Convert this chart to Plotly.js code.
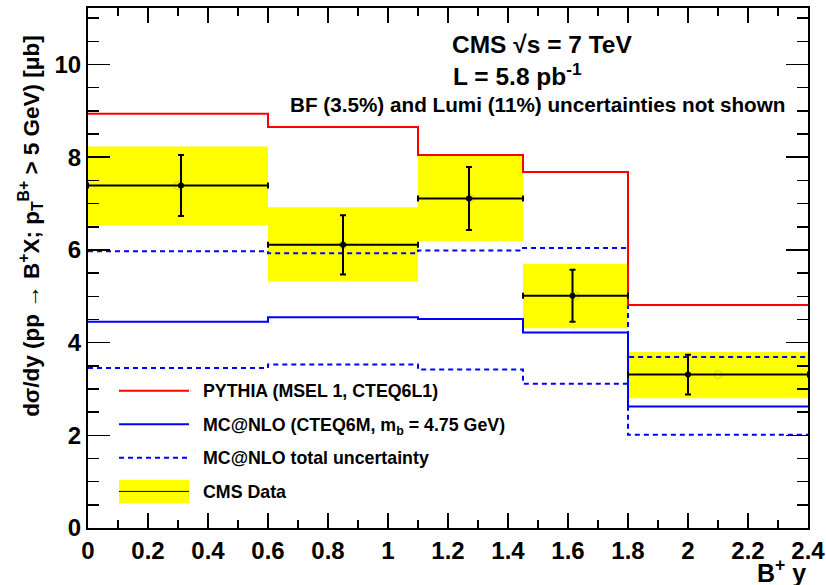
<!DOCTYPE html>
<html>
<head>
<meta charset="utf-8">
<script src="https://cdn.plot.ly/plotly-3.0.1.min.js"></script>
<style>html,body{margin:0;padding:0;background:#fff;}#plot{width:826px;height:585px;}</style>
</head>
<body>
<div id="plot"></div>
<script>
// ---- data ----
const binLow = [0, 0.6, 1.1, 1.45, 1.8];
const binHigh = [0.6, 1.1, 1.45, 1.8, 2.4];
const stepEdges = [0, 0.6, 1.1, 1.45, 1.8, 2.4];
const pythia = [8.94, 8.65, 8.05, 7.68, 4.81];
const mcnlo = [4.45, 4.55, 4.51, 4.22, 2.62];
const mcnloUp = [5.97, 5.93, 5.99, 6.04, 3.69];
const mcnloDown = [3.45, 3.53, 3.42, 3.11, 2.01];
const dataX = [0.31, 0.85, 1.27, 1.615, 2.0];
const dataY = [7.39, 6.11, 7.11, 5.01, 3.31];
const statErr = [0.66, 0.64, 0.68, 0.56, 0.43];
const totLow = [6.53, 5.32, 6.19, 4.31, 2.80];
const totHigh = [8.23, 6.92, 8.05, 5.70, 3.80];
const binCenter = [0.3, 0.85, 1.275, 1.625, 2.1];
const xTickVals = [0, 0.2, 0.4, 0.6, 0.8, 1, 1.2, 1.4, 1.6, 1.8, 2, 2.2, 2.4];
const xTickText = ["0", "0.2", "0.4", "0.6", "0.8", "1", "1.2", "1.4", "1.6", "1.8", "2", "2.2", "2.4"];
const yTickVals = [0, 2, 4, 6, 8, 10];
const yTickText = ["0", "2", "4", "6", "8", "10"];

const FONT = "Liberation Sans, Arial, Helvetica, sans-serif";

function stepY(v) { return v.concat([v[v.length - 1]]); }

const traces = [
  {
    type: 'bar',
    x: binLow.map((l, i) => (l + binHigh[i]) / 2),
    y: totHigh.map((h, i) => h - totLow[i]),
    base: totLow,
    width: binHigh.map((h, i) => h - binLow[i]),
    marker: { color: '#ffff00', line: { width: 0 } },
    hoverinfo: 'skip', showlegend: false
  },
  {
    type: 'scatter', mode: 'lines', x: stepEdges, y: stepY(mcnloUp),
    line: { shape: 'hv', color: '#0000ff', width: 2, dash: '5px,4px' }, showlegend: false
  },
  {
    type: 'scatter', mode: 'lines', x: stepEdges, y: stepY(mcnloDown),
    line: { shape: 'hv', color: '#0000ff', width: 2, dash: '5px,4px' }, showlegend: false
  },
  {
    type: 'scatter', mode: 'lines', x: stepEdges, y: stepY(mcnlo),
    line: { shape: 'hv', color: '#0000ff', width: 2 }, showlegend: false
  },
  {
    type: 'scatter', mode: 'lines', x: stepEdges, y: stepY(pythia),
    line: { shape: 'hv', color: '#ff0000', width: 2 }, showlegend: false
  },
  {
    type: 'scatter', mode: 'markers', x: binCenter, y: dataY,
    marker: { symbol: 'circle-open', size: 8, color: 'rgba(190,170,60,0.55)', line: { width: 1 } },
    showlegend: false, hoverinfo: 'skip'
  },
  {
    type: 'scatter', mode: 'markers', x: dataX, y: dataY,
    marker: { color: '#000', size: 6 },
    error_y: { type: 'data', array: statErr, visible: true, color: '#000', thickness: 2, width: 3 },
    error_x: { type: 'data', symmetric: false,
      array: binHigh.map((h, i) => h - dataX[i]),
      arrayminus: dataX.map((x, i) => x - binLow[i]),
      visible: true, color: '#000', thickness: 2, width: 3 },
    showlegend: false
  }
];

// pixel -> paper helpers for legend / text placement
const L = 88, R = 808, T = 8, B = 528.3;
function px(x) { return (x - L) / (R - L); }
function py(y) { return (B - y) / (B - T); }

const shapes = [
  { type: 'line', xref: 'paper', yref: 'paper', x0: px(119), x1: px(189), y0: py(391), y1: py(391), line: { color: '#ff0000', width: 2 } },
  { type: 'line', xref: 'paper', yref: 'paper', x0: px(119), x1: px(189), y0: py(424.5), y1: py(424.5), line: { color: '#0000ff', width: 2 } },
  { type: 'line', xref: 'paper', yref: 'paper', x0: px(119), x1: px(189), y0: py(458), y1: py(458), line: { color: '#0000ff', width: 2, dash: '5px,4px' } },
  { type: 'rect', xref: 'paper', yref: 'paper', x0: px(119), x1: px(189), y0: py(480), y1: py(503.5), fillcolor: '#ffff00', line: { width: 0 } },
  { type: 'line', xref: 'paper', yref: 'paper', x0: px(119), x1: px(189), y0: py(491.7), y1: py(491.7), line: { color: '#000', width: 1 } }
];

function ann(text, x, y, size, xanchor, extra) {
  return Object.assign({
    text: text, xref: 'paper', yref: 'paper', x: px(x), y: py(y),
    xanchor: xanchor || 'left', yanchor: 'middle', showarrow: false,
    font: { family: FONT, size: size, color: '#000', weight: 'bold' }
  }, extra || {});
}

const annotations = [
  ann('PYTHIA (MSEL 1, CTEQ6L1)', 201, 391, 17.8),
  ann('MC@NLO (CTEQ6M, m<sub>b</sub> = 4.75 GeV)', 201, 427, 17.8),
  ann('MC@NLO total uncertainty', 201, 458, 17.8),
  ann('CMS Data', 201, 492, 17.8),
  ann('CMS √s = 7 TeV', 450, 45, 24.5),
  ann('L = 5.8 pb<sup>-1</sup>', 451, 75, 24.5),
  ann('BF (3.5%) and Lumi (11%) uncertainties not shown', 288, 105, 20.7),
  ann('B<sup>+</sup> y', 808, 571, 25, 'right'),
  ann('dσ/dy (pp → B<sup>+</sup>X; p<sub>T</sub><sup>B+</sup> > 5 GeV) [μb]', 31, 226, 22.5, 'center', { textangle: -90 })
];

const layout = {
  width: 826, height: 585,
  margin: { l: 88, r: 18, t: 8, b: 56.7 },
  paper_bgcolor: '#fff', plot_bgcolor: '#fff',
  showlegend: false,
  barmode: 'overlay',
  font: { family: FONT, color: '#000' },
  xaxis: {
    range: [0, 2.4], showgrid: false, zeroline: false,
    showline: true, linecolor: '#000', linewidth: 2, mirror: 'allticks',
    ticks: 'inside', ticklen: 15, tickwidth: 1.5, tickcolor: '#000',
    tickvals: xTickVals, ticktext: xTickText,
    tickfont: { family: FONT, size: 24, weight: 'bold' },
    minor: { dtick: 0.1, ticks: 'inside', ticklen: 8, tickwidth: 1.5, tickcolor: '#000', showgrid: false }
  },
  yaxis: {
    range: [0, 11.22], showgrid: false, zeroline: false,
    showline: true, linecolor: '#000', linewidth: 2, mirror: 'allticks',
    ticks: 'inside', ticklen: 22, tickwidth: 1.5, tickcolor: '#000',
    tickvals: yTickVals, ticktext: yTickText,
    tickfont: { family: FONT, size: 24, weight: 'bold' },
    minor: { dtick: 0.5, ticks: 'inside', ticklen: 11, tickwidth: 1.5, tickcolor: '#000', showgrid: false }
  },
  shapes: shapes,
  annotations: annotations
};

Plotly.newPlot('plot', traces, layout, { staticPlot: true, displayModeBar: false });
</script>
</body>
</html>
